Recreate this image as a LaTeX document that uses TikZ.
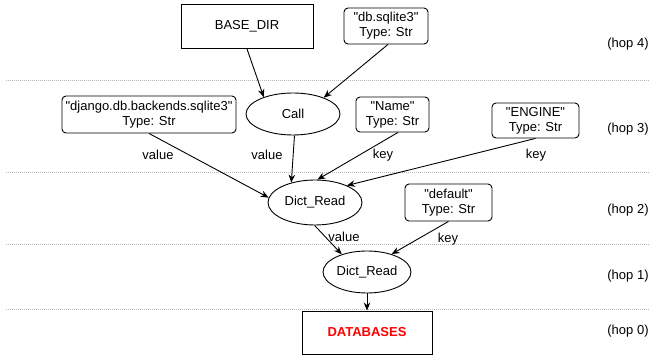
\documentclass[tikz,border=0pt]{standalone}
\usepackage{fontspec}
\setmainfont{Liberation Sans}
\usetikzlibrary{shapes.geometric,arrows.meta,calc}
\newcommand{\dq}{\textquotedbl}
\begin{document}
\begin{tikzpicture}[x=1pt,y=-1pt,
  every node/.style={font=\fontsize{13}{15}\selectfont},
  rbox/.style={draw,rounded corners=4pt,align=center,inner sep=2pt,line width=0.9pt},
  sbox/.style={draw,line width=0.9pt,align=center},
  ell/.style={draw,ellipse,line width=0.9pt,inner sep=0pt},
  conn/.style={-{Stealth[length=8pt,width=6.5pt]},line width=0.9pt},
  hopline/.style={draw=gray!55,line width=0.9pt,dash pattern=on 0.9pt off 1.1pt},
  elab/.style={inner sep=1pt}]
\useasboundingbox (0,0) rectangle (649,358);
% hop separators
\draw[hopline] (6,80) -- (649,80);
\draw[hopline] (6,172) -- (649,172);
\draw[hopline] (6,244) -- (649,244);
\draw[hopline] (6,309) -- (649,309);
% hop labels
\node (h4) at (628,44) {(hop 4)};
\node (h3) at (628,129) {(hop 3)};
\node (h2) at (628,210) {(hop 2)};
\node (h1) at (628,276) {(hop 1)};
\node (h0) at (628,331) {(hop 0)};
% nodes
\node[sbox,minimum width=132,minimum height=44.5] (base) at (247,26.25) {BASE\_DIR};
\node[rbox,minimum width=84,minimum height=36] (dbs) at (386,26) {\dq db.sqlite3\dq\\Type: Str};
\node[ell,minimum width=94,minimum height=42] (call) at (293,114) {Call};
\node[rbox,minimum width=174,minimum height=37] (dj) at (149,114.5) {\dq django.db.backends.sqlite3\dq\\Type: Str};
\node[rbox,minimum width=73,minimum height=35] (name) at (392.5,114.5) {\dq Name\dq\\Type: Str};
\node[rbox,minimum width=87,minimum height=35] (eng) at (535.5,120.5) {\dq ENGINE\dq\\Type: Str};
\node[ell,minimum width=94,minimum height=45] (dr2) at (315,202.5) {Dict\_Read};
\node[rbox,minimum width=87,minimum height=37] (def) at (448.5,202.5) {\dq default\dq\\Type: Str};
\node[ell,minimum width=88,minimum height=42] (dr1) at (367,272) {Dict\_Read};
\node[sbox,minimum width=130,minimum height=43] (db) at (367,332.5) {\textcolor{red}{\textbf{DATABASES}}};
% connectors
\draw[conn] (base.south) -- (call.150);
\draw[conn] ($(dbs.south)+(2,0)$) -- (call.28);
\draw[conn] (dj.south) -- (dr2.174)
  node[elab,at={(158,155)}] {value};
\draw[conn] (call.-86) -- (dr2.140)
  node[elab,at={(267,155)}] {value};
\draw[conn] ($(name.south)+(5.5,0)$) -- (dr2.84)
  node[elab,at={(383,155)}] {key};
\draw[conn] (eng.south) -- (dr2.28)
  node[elab,at={(536,155)}] {key};
\draw[conn] (dr2.-91) -- (dr1.145)
  node[elab,at={(344,237)}] {value};
\draw[conn] (def.south) -- (dr1.36)
  node[elab,at={(448,239)}] {key};
\draw[conn] (dr1.south) -- (db.north);
\end{tikzpicture}
\end{document}
